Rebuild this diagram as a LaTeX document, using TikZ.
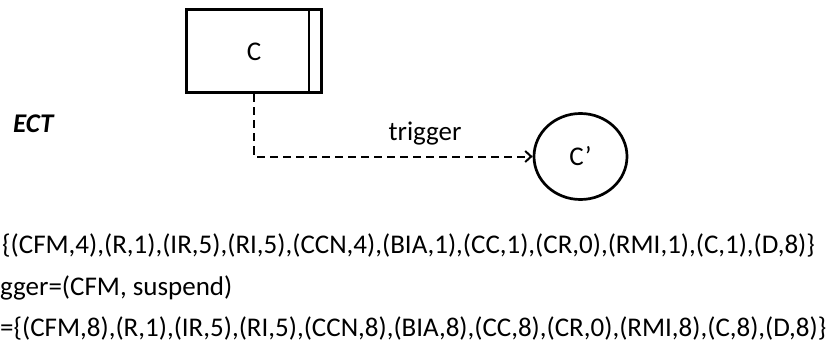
\documentclass[tikz,border=0pt]{standalone}
\usepackage{fontspec}
\setmainfont{Carlito}
\usetikzlibrary{shapes.geometric, arrows.meta, positioning}
\tikzstyle{comp} = [rectangle, draw=black, line width=3pt, minimum width=135pt, minimum height=83pt, inner sep=0pt]
\tikzstyle{copy} = [ellipse, draw=black, line width=2.7pt, minimum width=93pt, minimum height=86pt, inner sep=0pt]
\tikzstyle{trig} = [dashed, line width=2pt, dash pattern=on 8pt off 5pt, -{Straight Barb[length=6pt, width=11pt, line width=2pt]}]
\tikzstyle{txt} = [inner sep=0pt, anchor=base west]

\begin{document}
\begin{tikzpicture}[x=1pt, y=-1pt, font=\fontsize{27}{32}\selectfont]
\useasboundingbox (0,0) rectangle (827,342);

\node (comp) [comp] at (254,51.5) {C};
\draw [line width=1.6pt] ([xshift=-14pt]comp.north east) -- ([xshift=-14pt]comp.south east);
\node (cprime) [copy] at (580.5,156.5) {C’};

\draw [trig] (comp.south) |- (cprime.west);
\node (triglabel) [inner sep=0pt, anchor=base] at (425,140) {trigger};

\node (ect) [txt] at (13,132) {\bfseries\itshape ECT};

% state before and after
\node (before) [txt] at (2,253) {\{(CFM,4),(R,1),(IR,5),(RI,5),(CCN,4),(BIA,1),(CC,1),(CR,0),(RMI,1),(C,1),(D,8)\}};
\node (event) [txt] at (0,295) {gger=(CFM, suspend)};
\node (after) [txt] at (0,336) {=\{(CFM,8),(R,1),(IR,5),(RI,5),(CCN,8),(BIA,8),(CC,8),(CR,0),(RMI,8),(C,8),(D,8)\}};
\end{tikzpicture}
\end{document}
